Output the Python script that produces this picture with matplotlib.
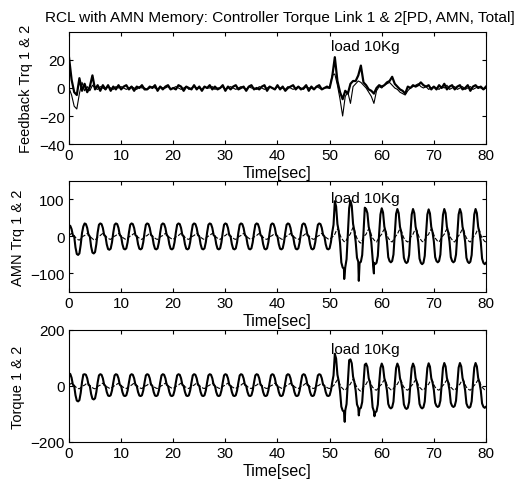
import numpy as np
import matplotlib
matplotlib.use("Agg")
import matplotlib.pyplot as plt

plt.rcParams['font.family'] = ['Liberation Sans', 'DejaVu Sans']

# ---- feedback torque (PD part), sampled every 0.5 s from 0 to 80 s ----
fb1 = [22, 6, -3, -5, 7, -2, 3, -3, 1, 9,
       -1, 2, -2, 2, -1, 2, -2, 1, -1, 2,
       -1, 1, 2, -1, 1, -2, 1, 0, 2, -1,
       -1, 1, 0, 2, -2, 1, -1, 1, 2, -1,
       0, -1, 2, 1, -2, 1, 0, -1, 2, -1,
       1, -2, 1, 0, 2, -1, 1, -1, 0, 2,
       -2, 1, -1, 1, 2, -1, 0, 1, -2, 1,
       2, -1, 0, -1, 1, 2, -2, 1, 0, -1,
       2, -1, 1, -2, 0, 1, 2, -1, 1, -1,
       0, 2, -2, 1, -1, 1, 2, -1, 0, 1,
       0, 8, 22, 5, -3, -8, -2, -4, 3, 5,
       5, 9, 16, 4, 2, -1, -2, -4, 0, 2,
       1, 2, 4, 5, 8, 3, 1, -1, -2, -4,
       1, 0, 2, 1, 2, 4, 2, 1, 2, -1,
       1, -1, 2, 0, 3, -1, 1, 2, -1, 1,
       2, -1, 0, 2, -2, 1, 2, 0, 1, -1,
       1]
fb2 = [0, -5, -13, -15, -4, 4, -2, 1, -2, 2,
       0, -1, 1, 0, -1, 1, 0, -1, 1, 0,
       1, 0, -1, 0, 1, 0, -1, 1, 0, 0,
       -1, 0, 1, 0, -1, 1, 0, 0, 1, -1,
       0, 1, 0, -1, 0, 1, -1, 0, 1, 0,
       0, -1, 1, 0, 0, 1, -1, 0, 0, 1,
       -1, 0, 1, 0, -1, 0, 1, 0, -1, 1,
       0, 0, -1, 1, 0, -1, 0, 1, 0, -1,
       1, 0, 0, -1, 1, 0, -1, 0, 1, 0,
       -1, 1, 0, 0, -1, 1, 0, -1, 0, 0,
       0, 9, 10, 2, -8, -20, -6, -3, -11, 1,
       3, 5, 4, 2, 0, -3, -6, -11, -2, 1,
       0, 2, 3, 4, 2, 0, -1, -3, -4, -5,
       -2, 0, 1, 2, 3, 1, 0, 1, -1, 0,
       1, 0, -1, 1, 0, 2, -1, 0, 1, -1,
       0, 1, -1, 0, 1, -1, 0, 1, 0, -1,
       0]

# ---- periodic torques: one 3 s cycle per entry, peaks at t = 0, 3, ..., 78 ----
# cycle shapes (12 samples per cycle, 0.25 s apart)
shape_pre = [1.0, 0.95, 0.65, 0.1, 0.0, -0.6, -0.95, -1.0, -0.92, -0.45, 0.3, 0.9]
shape_post = [1.0, 0.85, 0.35, 0.15, -0.2, -0.8, -0.95, -1.0, -0.95, -0.7, 0.1, 0.8]
shape_dash = [0.3, 0.7, 1.0, 0.8, 0.2, -0.3, -0.6, -0.9, -1.0, -0.6, -0.2, 0.1]

amn1_peak = [30, 35, 35, 35, 35, 35, 35, 35, 35, 35, 35, 35, 35, 35, 35, 35, 35,
             95, 97, 74, 76, 74, 74, 73, 74, 74, 74]
amn1_trough = [-50, -46, -36, -35, -35, -35, -35, -35, -35, -35, -35, -35, -35, -35, -35, -35, -35,
               -88, -72, -75, -70, -72, -75, -70, -70, -72, -75]
amn1_spike_t = [52.8, 55.6, 58.5]
amn1_spike_v = [-115, -120, -100]

amn2_peak = [8, 8, 8, 8, 8, 8, 8, 8, 8, 8, 8, 8, 8, 8, 8, 8, 8,
             20, 24, 20, 20, 20, 20, 20, 20, 20, 20]
amn2_trough = [-10, -10, -8, -8, -8, -8, -8, -8, -8, -8, -8, -8, -8, -8, -8, -8, -8,
               -15, -18, -15, -15, -15, -15, -15, -15, -15, -15]

tot1_peak = [45, 42, 42, 42, 42, 42, 42, 42, 42, 42, 42, 42, 42, 42, 42, 42, 42,
             115, 95, 80, 80, 80, 80, 81, 82, 82, 82]
tot1_trough = [-55, -48, -36, -36, -36, -36, -36, -36, -36, -36, -36, -36, -36, -36, -36, -36, -36,
               -92, -82, -95, -80, -82, -80, -75, -75, -78, -78]
tot1_spike_t = [52.9, 55.6, 58.6]
tot1_spike_v = [-128, -105, -108]

tot2_peak = [10, 10, 10, 10, 10, 10, 10, 10, 10, 10, 10, 10, 10, 10, 10, 10, 10,
             22, 24, 22, 22, 22, 22, 22, 22, 22, 22]
tot2_trough = [-10, -10, -9, -9, -9, -9, -9, -9, -9, -9, -9, -9, -9, -9, -9, -9, -9,
               -15, -18, -15, -15, -15, -15, -15, -15, -15, -15]

load_k = 17  # first cycle after the 10 kg load (t = 51 s)


def build(peaks, troughs, shape_a, shape_b, spike_t=(), spike_v=()):
    t, v = [], []
    for k in range(len(peaks)):
        shape = shape_a if k < load_k else shape_b
        for j, s in enumerate(shape):
            tt = 3 * k + 0.25 * j
            if tt > 80:
                break
            t.append(tt)
            v.append(s * peaks[k] if s >= 0 else -s * troughs[k])
    t = list(t) + list(spike_t)
    v = list(v) + list(spike_v)
    order = np.argsort(t)
    return np.array(t)[order], np.array(v)[order]


fb_t = np.arange(len(fb1)) * 0.5

fig = plt.figure(figsize=(5.21, 4.85), dpi=100)
left, width = 0.1324, 0.8004
ax1 = fig.add_axes([left, 0.701, width, 0.231])
ax2 = fig.add_axes([left, 0.396, width, 0.229])
ax3 = fig.add_axes([left, 0.0866, width, 0.231])

ax1.plot(fb_t, fb1, color='black', lw=1.6)
ax1.plot(fb_t, fb2, color='black', lw=0.8)
ax1.set_ylim(-40, 40)
ax1.set_yticks([-40, -20, 0, 20])
ax1.set_ylabel('Feedback Trq 1 & 2')
ax1.set_title('RCL with AMN Memory: Controller Torque Link 1 & 2[PD, AMN, Total]',
              fontsize=11.1, pad=8, x=0.505)
ax1.text(50.3, 30, 'load 10Kg', fontsize=11, va='center')

t, v = build(amn1_peak, amn1_trough, shape_pre, shape_post, amn1_spike_t, amn1_spike_v)
ax2.plot(t, v, color='black', lw=1.5)
t, v = build(amn2_peak, amn2_trough, shape_dash, shape_dash)
ax2.plot(t, v, color='black', lw=0.8, ls='--')
ax2.set_ylim(-150, 150)
ax2.set_yticks([-100, 0, 100])
ax2.set_ylabel('AMN Trq 1 & 2')
ax2.text(50.3, 103, 'load 10Kg', fontsize=11, va='center')

t, v = build(tot1_peak, tot1_trough, shape_pre, shape_post, tot1_spike_t, tot1_spike_v)
ax3.plot(t, v, color='black', lw=1.5)
t, v = build(tot2_peak, tot2_trough, shape_dash, shape_dash)
ax3.plot(t, v, color='black', lw=0.8, ls='--')
ax3.set_ylim(-200, 200)
ax3.set_yticks([-200, 0, 200])
ax3.set_ylabel('Torque 1 & 2')
ax3.text(50.3, 131, 'load 10Kg', fontsize=11, va='center')

for ax in (ax1, ax2, ax3):
    ax.set_xlim(0, 80)
    ax.set_xticks(range(0, 81, 10))
    ax.set_xlabel('Time[sec]', fontsize=11.5, labelpad=2)
    ax.tick_params(direction='in', top=True, right=True, length=3, labelsize=11, pad=3)
    ax.yaxis.label.set_size(10.5)
    for sp in ax.spines.values():
        sp.set_linewidth(0.8)

fig.savefig('out.png', dpi=100)
